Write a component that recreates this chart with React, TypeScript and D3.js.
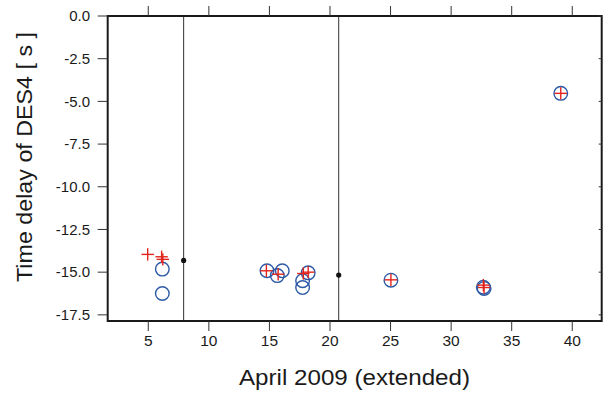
import React from "react";
import * as d3 from "d3";

// Blue circles: delay estimates (day of April 2009, seconds)
const circleDays = [6.16, 6.16, 14.8, 15.65, 16.06, 18.2, 17.74, 17.74, 25.03, 32.66, 32.72, 39.05];
const circleDelays = [-14.82, -16.25, -14.92, -15.2, -14.92, -15.04, -15.5, -15.9, -15.47, -15.88, -15.95, -4.53];

// Red crosses: second set of delay estimates
const crossDays = [4.95, 6.1, 6.2, 14.75, 15.72, 17.8, 18.2, 25.03, 32.66, 32.72, 39.05];
const crossDelays = [-13.96, -14.1, -14.25, -14.92, -15.12, -15.08, -15.0, -15.45, -15.76, -15.9, -4.53];

// Reference events: vertical line with a black dot
const eventDays = [7.92, 20.72];
const eventDelays = [-14.31, -15.17];

const xTicks = [5, 10, 15, 20, 25, 30, 35, 40];
const yTicks = [0, -2.5, -5, -7.5, -10, -12.5, -15, -17.5];

const W = 604;
const H = 395;
const left = 107.7;
const right = 601.7;
const top = 16;
const bottom = 321;

const font = "'Liberation Sans', Arial, Helvetica, sans-serif";

export default function App() {
  const x = d3.scaleLinear().domain([1.65, 42.43]).range([left, right]);
  const y = d3.scaleLinear().domain([-17.86, 0]).range([bottom, top]);
  // plain hyphen-minus for negative tick labels
  const fmt = (v: number) => v.toFixed(1);

  return (
    <svg
      width={W}
      height={H}
      style={{ position: "absolute", left: 0, top: 0, background: "#fff" }}
      fontFamily={font}
    >
      {/* event lines */}
      {eventDays.map((d, i) => (
        <line key={"ev" + i} x1={x(d)} x2={x(d)} y1={top} y2={bottom} stroke="#333" strokeWidth={1} />
      ))}
      {eventDays.map((d, i) => (
        <circle key={"ed" + i} cx={x(d)} cy={y(eventDelays[i])} r={2.6} fill="#111" />
      ))}

      {/* circles */}
      {circleDays.map((d, i) => (
        <circle
          key={"c" + i}
          cx={x(d)}
          cy={y(circleDelays[i])}
          r={6.8}
          fill="none"
          stroke="#2d5aa6"
          strokeWidth={1.4}
        />
      ))}
      {/* crosses */}
      {crossDays.map((d, i) => {
        const cx = x(d);
        const cy = y(crossDelays[i]);
        const s = 6.2;
        return (
          <g key={"x" + i} stroke="#e3241c" strokeWidth={1.4}>
            <line x1={cx - s} x2={cx + s} y1={cy} y2={cy} />
            <line x1={cx} x2={cx} y1={cy - s} y2={cy + s} />
          </g>
        );
      })}

      {/* frame */}
      <rect
        x={left}
        y={top}
        width={right - left}
        height={bottom - top}
        fill="none"
        stroke="#1a1a1a"
        strokeWidth={2}
      />

      {/* x ticks: outward on top and bottom */}
      {xTicks.map((t) => (
        <g key={"xt" + t} stroke="#333" strokeWidth={1}>
          <line x1={x(t)} x2={x(t)} y1={top} y2={top - 10} />
          <line x1={x(t)} x2={x(t)} y1={bottom} y2={bottom + 10} />
        </g>
      ))}
      {xTicks.map((t) => (
        <text
          key={"xl" + t}
          x={x(t)}
          y={346}
          textAnchor="middle"
          fontSize={15.5}
          fill="#1a1a1a"
        >
          {t}
        </text>
      ))}

      {/* y ticks: outward on left, short inward on right */}
      {yTicks.map((t) => (
        <g key={"yt" + t} stroke="#333" strokeWidth={1}>
          <line x1={left} x2={left - 10} y1={y(t)} y2={y(t)} />
          <line x1={right} x2={right - 3} y1={y(t)} y2={y(t)} />
        </g>
      ))}
      {yTicks.map((t) => (
        <text
          key={"yl" + t}
          x={90}
          y={y(t)}
          dy="0.35em"
          textAnchor="end"
          fontSize={15}
          fill="#1a1a1a"
        >
          {fmt(t)}
        </text>
      ))}

      {/* axis titles */}
      <text
        x={354.5}
        y={385}
        textAnchor="middle"
        fontSize={22}
        textLength={231}
        lengthAdjust="spacingAndGlyphs"
        fill="#1a1a1a"
      >
        April 2009 (extended)
      </text>
      <text
        transform="translate(32, 157) rotate(-90)"
        textAnchor="middle"
        fontSize={22}
        textLength={250}
        lengthAdjust="spacingAndGlyphs"
        fill="#1a1a1a"
      >
        Time delay of DES4 [ s ]
      </text>
    </svg>
  );
}
